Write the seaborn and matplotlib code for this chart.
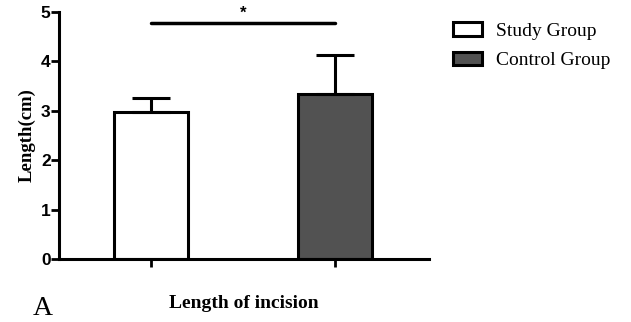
import matplotlib
matplotlib.use("Agg")
import matplotlib.pyplot as plt
import seaborn as sns
import pandas as pd
from matplotlib.patches import Patch

groups = ["Study Group", "Control Group"]
means = [2.97, 3.35]
errors = [0.28, 0.78]
colors = ["#ffffff", "#525252"]
yticks = [0, 1, 2, 3, 4, 5]

sns.set_style("ticks")
plt.rcParams["font.family"] = ["Liberation Sans", "DejaVu Sans"]
plt.rcParams["text.color"] = "black"
plt.rcParams["axes.edgecolor"] = "black"
plt.rcParams["xtick.color"] = "black"
plt.rcParams["ytick.color"] = "black"
plt.rcParams["axes.labelcolor"] = "black"

df = pd.DataFrame({"group": groups, "mean": means})

fig = plt.figure(figsize=(6.31, 3.22), dpi=100)
ax = fig.add_axes([0.0935, 0.1957, 0.5865, 0.767])

sns.barplot(data=df, x="group", y="mean", hue="group", palette=colors,
            width=0.4, edgecolor="black", linewidth=2.2, legend=False, ax=ax,
            errorbar=None)

for i, (m, e) in enumerate(zip(means, errors)):
    ax.errorbar(i, m, yerr=[[0], [e]], fmt="none", ecolor="black",
                elinewidth=2.2, capsize=14, capthick=2.2, zorder=1)

ax.set_xlim(-0.5, 1.51)
ax.set_ylim(0, 5)
ax.set_yticks(yticks)
ax.set_yticklabels([str(t) for t in yticks], fontsize=12.5, fontweight="bold")
ax.set_xticks([0, 1])
ax.set_xticklabels(["", ""])
ax.tick_params(axis="both", width=2, length=5.5, direction="out", pad=0.5,
               color="black", labelcolor="black")
for s in ["left", "bottom"]:
    ax.spines[s].set_linewidth(2.2)
    ax.spines[s].set_color("black")
sns.despine(ax=ax)

ax.set_xlabel("Length of incision", family="Liberation Serif", fontweight="bold",
              fontsize=14, labelpad=20, color="black")
ax.set_ylabel("Length(cm)", family="Liberation Serif", fontweight="bold",
              fontsize=13.5, labelpad=4, color="black")

# significance bar
ax.plot([0, 1], [4.78, 4.78], color="black", lw=2.5, clip_on=False)
ax.text(0.5, 4.83, "*", ha="center", va="bottom", fontsize=12, fontweight="bold",
        color="black")

fig.text(0.052, 0.022, "A", family="Liberation Serif", fontsize=20, color="black")

handles = [Patch(facecolor=c, edgecolor="black", linewidth=2.2) for c in colors]
fig.legend(handles, groups, loc="upper left", bbox_to_anchor=(0.69, 0.985),
           frameon=False, prop={"family": "Liberation Serif", "size": 14},
           handlelength=1.5, handleheight=0.7, handletextpad=0.7, labelspacing=0.6)

fig.savefig("out.png", dpi=100)
